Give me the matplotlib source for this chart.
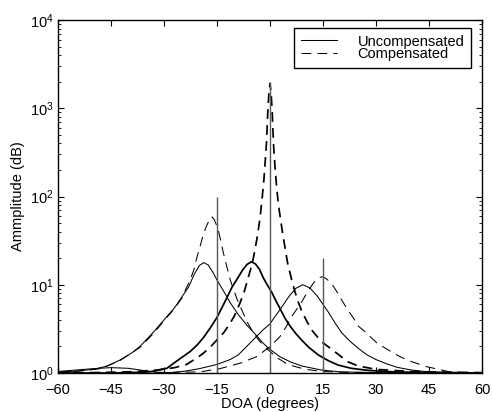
import matplotlib

matplotlib.use("Agg")
import matplotlib.pyplot as plt

plt.rcParams["font.family"] = ["Liberation Sans", "DejaVu Sans"]
plt.rcParams["font.size"] = 10.5
plt.rcParams["lines.scale_dashes"] = False

# true source directions (deg) and their powers
src_doa = [-15, 0, 15]
src_pow = [100, 2000, 20]

# source at -15 deg: uncompensated / compensated spectra
unc1_x = [-60, -55, -50, -46, -42.5, -39, -36.8, -33, -30, -27, -25, -23, -21.5, -20,
          -18.8, -17.5, -16, -15, -13, -11.3, -9, -6.6, -4, -1.9, 0, 2.8, 5.7, 9,
          14.6, 20, 30, 45, 60]
unc1_y = [1.03, 1.05, 1.1, 1.2, 1.4, 1.7, 2.0, 2.9, 4.0, 5.5, 7.2, 9.5, 13.0, 16.5,
          17.8, 16.8, 13.5, 11.3, 8.3, 6.3, 4.6, 3.5, 2.7, 2.17, 1.85, 1.53, 1.34, 1.2,
          1.08, 1.03, 1.01, 1.01, 1.0]
cmp1_x = [-60, -55, -48, -42.5, -36.8, -33, -30, -27, -25, -23.5, -22.6, -21.5, -20.75,
          -19.8, -18.9, -18, -17.2, -16.5, -15.8, -15.2, -14.6, -13.9, -13.2, -12.3,
          -11.3, -10.3, -9.4, -8, -6.5, -5, -3, -1, 1.9, 5, 10, 15, 20, 30, 45, 60]
cmp1_y = [1.02, 1.04, 1.12, 1.38, 1.95, 2.8, 3.9, 5.4, 7.0, 9.5, 11.3, 15, 20,
          27, 37, 46, 54, 59, 55, 48, 41, 31, 23, 16.5,
          11.5, 8.8, 7.0, 5.2, 3.8, 3.0, 2.3, 1.9, 1.5, 1.25, 1.1, 1.04, 1.02, 1.01, 1.0, 1.0]

# source at 0 deg
unc2_x = [-60, -45, -40, -34, -29.2, -25.5, -22.6, -20.5, -18.9, -17, -15.1, -13.5,
          -12.3, -10.8, -9.2, -7.8, -6.5, -5.3, -4.1, -3, -1.9, -0.8, 0.5, 1.5, 2.8,
          4.2, 5.7, 7.3, 9, 11, 13.7, 16.5, 19.3, 23, 27.8, 35, 45, 60]
unc2_y = [1.0, 1.0, 1.01, 1.03, 1.13, 1.45, 1.75, 2.1, 2.5, 3.2, 4.2, 5.6,
          7.0, 9.3, 11.8, 14.6, 17.0, 18.2, 17.2, 15.0, 12.0, 10.0, 8.2, 6.8, 5.4,
          4.2, 3.4, 2.8, 2.35, 1.95, 1.6, 1.38, 1.23, 1.13, 1.07, 1.03, 1.01, 1.0]
cmp2_x = [-60, -50, -40, -32, -27, -23.6, -20.5, -18.9, -17, -15.1, -13, -11.3, -10,
          -8.5, -7.2, -6.1, -5, -4.25, -3.5, -2.8, -2.2, -1.7, -1.3, -1, -0.6, -0.3,
          0, 0.3, 0.6, 1, 1.4, 1.9, 2.4, 2.8, 3.5, 4.2, 5, 6.1, 7, 7.8, 9, 10.5, 12,
          13.3, 15, 17.5, 20, 22, 25, 30, 40, 50, 60]
cmp2_y = [1.0, 1.01, 1.03, 1.08, 1.15, 1.25, 1.5, 1.67, 1.95, 2.35, 2.9, 3.65, 4.5,
          6.2, 8.6, 12.3, 17.5, 25, 37, 58, 98, 160, 270, 400, 950, 1500,
          1900, 1500, 950, 390, 220, 125, 80, 62, 40, 27, 17.5, 11.5, 8.5, 6.7, 5.0, 3.8, 3.0,
          2.6, 2.2, 1.85, 1.55, 1.34, 1.2, 1.1, 1.04, 1.02, 1.01]

# source at 15 deg
unc3_x = [-60, -55, -50, -45, -40, -36, -32, -28, -24, -20, -15, -11.3, -9, -6.6, -4,
          -1.9, 0, 1.3, 2.8, 3.6, 5.3, 7.3, 9.3, 11.3, 13.3, 15, 16.5, 18.4, 20.3,
          22.6, 25, 27.5, 30, 33, 36, 40, 45, 50, 60]
unc3_y = [1.04, 1.08, 1.12, 1.15, 1.13, 1.07, 1.02, 1.01, 1.05, 1.12, 1.25, 1.42, 1.6,
          2.0, 2.55, 3.1, 3.6, 4.3, 5.2, 5.8, 7.3, 9.1, 10.0, 9.2, 7.5, 6.0, 4.9, 3.7,
          2.85, 2.3, 1.9, 1.6, 1.42, 1.27, 1.16, 1.08, 1.03, 1.02, 1.01]
cmp3_x = [-60, -40, -30, -19.8, -14.2, -8.5, -3.8, 0, 2.8, 4.5, 6.1, 7.6, 9.0, 10.9,
          12.5, 14.0, 14.8, 15.8, 17.2, 18.8, 20.5, 22, 23.6, 25.0, 26.9, 28.5, 30.2,
          33.5, 36.8, 40, 44.3, 50.9, 55, 60]
cmp3_y = [1.0, 1.0, 1.01, 1.03, 1.12, 1.29, 1.53, 1.99, 2.58, 3.3, 4.35, 5.3, 6.4, 8.7,
          10.7, 12.1, 12.3, 11.8, 10.6, 8.5, 6.5, 5.2, 4.2, 3.4, 2.94, 2.55, 2.2,
          1.82, 1.53, 1.35, 1.18, 1.03, 1.01, 1.0]

x_ticks = [-60, -45, -30, -15, 0, 15, 30, 45, 60]

fig = plt.figure(figsize=(4.93, 4.12), dpi=100)
ax = fig.add_axes([58 / 493, 1 - 373 / 412, 424 / 493, 353 / 412])

dash = (0, (7, 4.5))
thin, thick = 0.75, 1.25

ax.plot(unc1_x, unc1_y, color="black", lw=thin, label="Uncompensated")
ax.plot(cmp1_x, cmp1_y, color="black", lw=thin, linestyle=dash, label="Compensated")
ax.plot(unc2_x, unc2_y, color="black", lw=thick)
ax.plot(cmp2_x, cmp2_y, color="black", lw=thick, linestyle=dash)
ax.plot(unc3_x, unc3_y, color="black", lw=thin)
ax.plot(cmp3_x, cmp3_y, color="black", lw=thin, linestyle=dash)

# true DOAs drawn as plain vertical lines
ax.vlines(src_doa, 1, src_pow, color="0.35", lw=1.0)

ax.set_yscale("log")
ax.set_xlim(-60, 60)
ax.set_ylim(1, 1e4)
ax.set_xticks(x_ticks)
ax.tick_params(which="both", direction="in", top=True, right=True)
ax.tick_params(which="major", length=4, width=0.8)
ax.tick_params(which="minor", length=2, width=0.6)
ax.tick_params(axis="x", which="major", pad=7)
ax.tick_params(axis="y", which="major", pad=3)
for sp in ax.spines.values():
    sp.set_linewidth(1.0)

ax.set_xlabel("DOA (degrees)", labelpad=0)
ax.set_ylabel("Ammplitude (dB)", labelpad=4)

leg = ax.legend(loc="upper right", bbox_to_anchor=(471 / 493, 1 - 28 / 412),
                bbox_transform=fig.transFigure, borderaxespad=0, fancybox=False,
                edgecolor="black", framealpha=1, borderpad=0.45, labelspacing=-0.08,
                handlelength=2.5, handletextpad=1.4)
leg.get_frame().set_linewidth(1.0)

fig.savefig("out.png", dpi=100)
